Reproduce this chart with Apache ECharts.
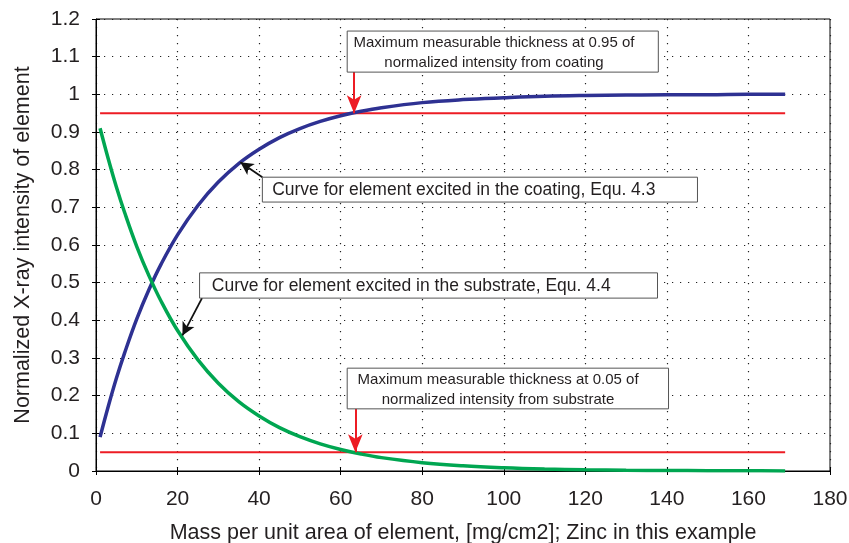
<!DOCTYPE html>
<html>
<head>
<meta charset="utf-8">
<script src="https://cdn.jsdelivr.net/npm/echarts@6/dist/echarts.min.js"></script>
<style>
  html, body { margin: 0; padding: 0; background: #fff; }
  #chart { width: 849px; height: 543px; }
</style>
</head>
<body>
<div id="chart"></div>
<script>
// Mass per unit area of zinc, mg/cm2
const massValues = [1, 3, 5, 7, 10, 13, 16, 20, 25, 30, 35, 40, 45, 50, 55, 60, 65, 70, 80, 90, 100, 110, 120, 130, 140, 150, 160, 169];
// Normalized intensity, element excited in the coating (Equ. 4.3)
const coatingIntensity = [0.090, 0.171, 0.246, 0.313, 0.404, 0.482, 0.550, 0.627, 0.705, 0.767, 0.816, 0.854, 0.885, 0.909, 0.928, 0.943, 0.955, 0.9645, 0.978, 0.986, 0.991, 0.995, 0.997, 0.998, 0.999, 0.999, 1.0, 1.0];
// Normalized intensity, element excited in the substrate (Equ. 4.4)
const substrateIntensity = [0.910, 0.829, 0.754, 0.687, 0.596, 0.518, 0.450, 0.373, 0.295, 0.233, 0.184, 0.146, 0.115, 0.091, 0.072, 0.057, 0.045, 0.0355, 0.0222, 0.0139, 0.0087, 0.0054, 0.0034, 0.0021, 0.0013, 0.0008, 0.0005, 0.0003];
// Threshold levels and the range they span
const thresholdLevels = [0.95, 0.05];
const thresholdRange = [1, 169];
// Thickness where each curve crosses its threshold
const crossingMass = [63.3, 63.6];

const xTicks = { min: 0, max: 180, interval: 20 };
const yTicks = { min: 0, max: 1.2, interval: 0.1 };

const FONT = '"Liberation Sans", Arial, Helvetica, sans-serif';
const INK = '#231f20';
const BLUE = '#2e3192';
const GREEN = '#00a651';
const RED = '#ed1c24';

// Callout boxes: corners in data coordinates, text anchor and text
const callouts = [
  { x0: 61.6, y0: 1.168, x1: 137.9, y1: 1.059, size: 15, tx: 97.6, align: 'center',
    text: 'Maximum measurable thickness at 0.95 of\nnormalized intensity from coating' },
  { x0: 40.8, y0: 0.780, x1: 147.5, y1: 0.714, size: 17.5, tx: 43.2, align: 'left',
    text: 'Curve for element excited in the coating, Equ. 4.3' },
  { x0: 25.4, y0: 0.526, x1: 137.7, y1: 0.459, size: 17.5, tx: 28.4, align: 'left',
    text: 'Curve for element excited in the substrate, Equ. 4.4' },
  { x0: 61.6, y0: 0.273, x1: 140.4, y1: 0.165, size: 15, tx: 98.6, align: 'center',
    text: 'Maximum measurable thickness at 0.05 of\nnormalized intensity from substrate' }
];

const chart = echarts.init(document.getElementById('chart'), null, { renderer: 'canvas' });

const pairs = (ys) => massValues.map((x, i) => [x, ys[i]]);

const arrowLine = (color, width, size, segs) => ({
  type: 'line',
  data: [],
  silent: true,
  markLine: {
    silent: true,
    symbol: ['none', 'arrow'],
    symbolSize: size,
    label: { show: false },
    lineStyle: { color: color, width: width, type: 'solid' },
    data: segs.map(s => [{ coord: s[0] }, { coord: s[1] }])
  },
  z: 6
});

const gridLine = { show: true, lineStyle: { color: '#222', width: 1.2, type: [1.2, 6.8] } };
const tick = (inside) => ({ show: true, inside: inside, length: 4, lineStyle: { color: '#000' } });

// The main axes carry labels and outer ticks; twin axes add the inner half of each tick
const xMain = {
  type: 'value', min: xTicks.min, max: xTicks.max, interval: xTicks.interval, position: 'bottom',
  name: 'Mass per unit area of element, [mg/cm2]; Zinc in this example',
  nameLocation: 'middle', nameGap: 51,
  nameTextStyle: { fontFamily: FONT, fontSize: 21.5, color: INK },
  axisLine: { lineStyle: { color: '#000', width: 1 } },
  axisTick: tick(false),
  axisLabel: { fontFamily: FONT, fontSize: 21, color: INK, margin: 18 },
  splitLine: gridLine
};
const yMain = {
  type: 'value', min: yTicks.min, max: yTicks.max, interval: yTicks.interval, position: 'left',
  name: 'Normalized X-ray intensity of element',
  nameLocation: 'middle', nameGap: 62, nameRotate: 90,
  nameTextStyle: { fontFamily: FONT, fontSize: 21.5, color: INK },
  axisLine: { show: true, lineStyle: { color: '#000', width: 1 } },
  axisTick: tick(false),
  axisLabel: { fontFamily: FONT, fontSize: 21, color: INK, margin: 16 },
  splitLine: gridLine
};
const twin = (base) => ({
  type: 'value', min: base.min, max: base.max, interval: base.interval, position: base.position,
  offset: 0, axisLine: { show: false }, axisTick: tick(true),
  axisLabel: { show: false }, splitLine: { show: false }
});

const option = {
  animation: false,
  backgroundColor: '#fff',
  grid: {
    left: 96, right: 19, top: 19, bottom: 72,
    outerBoundsMode: 'none',
    show: true, borderColor: '#000', borderWidth: 1
  },
  xAxis: [xMain, twin(xMain)],
  yAxis: [yMain, twin(yMain)],
  series: [
    ...thresholdLevels.map(level => ({
      type: 'line', name: 'threshold ' + level,
      data: thresholdRange.map(x => [x, level]),
      symbol: 'none', lineStyle: { color: RED, width: 2 }, z: 2
    })),
    {
      type: 'line', name: 'coating', data: pairs(coatingIntensity), smooth: 0.4,
      symbol: 'none', lineStyle: { color: BLUE, width: 3.5 }, z: 4
    },
    {
      type: 'line', name: 'substrate', data: pairs(substrateIntensity), smooth: 0.4,
      symbol: 'none', lineStyle: { color: GREEN, width: 3.5 }, z: 4
    },
    arrowLine(RED, 2, [11, 18], [
      [[crossingMass[0], callouts[0].y1], [crossingMass[0], thresholdLevels[0]]],
      [[crossingMass[1], callouts[3].y1], [crossingMass[1], thresholdLevels[1]]]
    ]),
    arrowLine('#111', 1.8, [10, 13], [
      [[callouts[1].x0, callouts[1].y0], [35.4, 0.82]],
      [[callouts[2].x0 + 0.6, callouts[2].y1], [21.2, 0.36]]
    ])
  ]
};

chart.setOption(option);

// Place the callout boxes using the axes' own conversion
const graphics = callouts.map(c => {
  const p0 = chart.convertToPixel({ gridIndex: 0 }, [c.x0, c.y0]);
  const p1 = chart.convertToPixel({ gridIndex: 0 }, [c.x1, c.y1]);
  const tx = chart.convertToPixel({ gridIndex: 0 }, [c.tx, c.y0])[0];
  const w = p1[0] - p0[0], h = p1[1] - p0[1];
  return {
    type: 'group', z: 10,
    children: [
      { type: 'rect', shape: { x: p0[0], y: p0[1], width: w, height: h },
        style: { fill: '#fff', stroke: '#555', lineWidth: 1 }, z: 10 },
      { type: 'text', x: tx, y: p0[1] + h / 2 + 1, z: 11,
        style: { text: c.text, fontFamily: FONT, fontSize: c.size, fill: INK,
                 align: c.align, verticalAlign: 'middle', lineHeight: c.size * 1.33 } }
    ]
  };
});
chart.setOption({ graphic: graphics });
</script>
</body>
</html>
